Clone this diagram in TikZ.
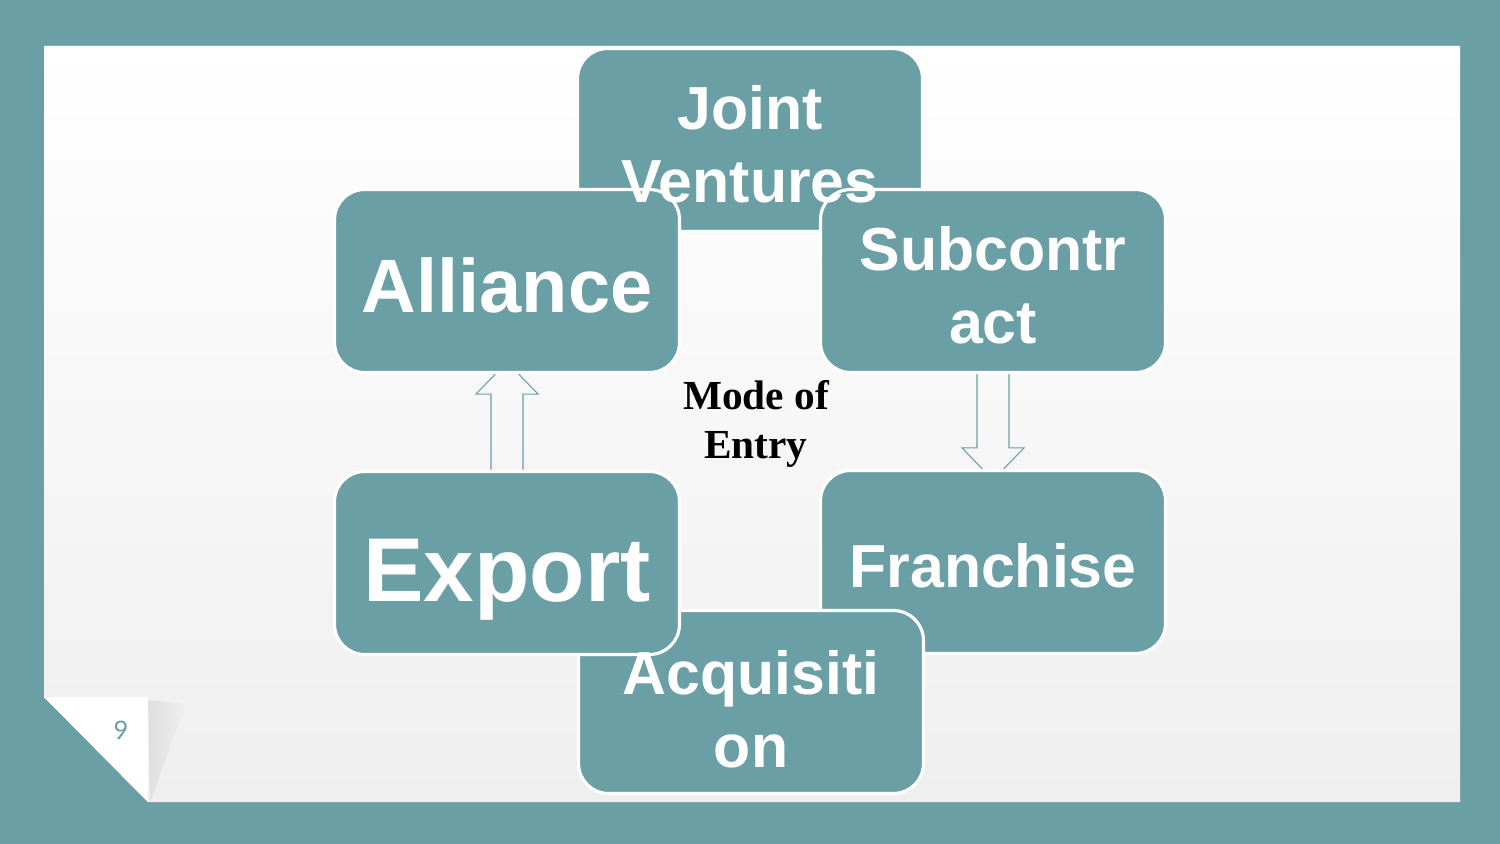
\documentclass[tikz,border=0pt]{standalone}
\usepackage{fontspec}
\setmainfont{Liberation Serif}
\setsansfont{Liberation Sans}
\newfontfamily\numfont{Lato}
\usetikzlibrary{calc, backgrounds}
\definecolor{cteal}{HTML}{6A9FA5}
\definecolor{cpage}{HTML}{EFEFEF}
\tikzset{
  every picture/.style={font=\sffamily},
  box/.style={draw=white, fill=cteal, line width=1.8pt, rounded corners=0.6cm, minimum width=6.9cm, minimum height=3.66cm, inner sep=0pt},
  boxtext/.style={text=white, align=center, inner sep=0pt, yshift=-0.08cm, font=\sffamily\bfseries\fontsize{#1}{41.5pt}\selectfont},
  boxtext/.default=34.6pt,
  hub/.style={align=center, inner sep=0pt, font=\rmfamily\bfseries\fontsize{23.5pt}{28.3pt}\selectfont},
  blockarrow/.style={draw=cteal, line width=0.6pt, line join=miter},
}

\begin{document}
\begin{tikzpicture}[x=0.02cm, y=-0.02cm, pagenum/.style={text=cteal, font=\numfont\fontsize{14.5pt}{17pt}\selectfont}]
  \useasboundingbox (0,0) rectangle (1500,844);
  \begin{scope}[on background layer]
    \fill[cteal] (0,0) rectangle (1500,844);
    \shade[top color=white, bottom color=cpage] (44,46) -- (1460,46) -- (1460,802) -- (148,802) -- (44,697) -- cycle;
    \shade[left color=gray!25, right color=cpage] (148,700) -- (186,704) -- (150,802) -- cycle;
    \fill[white] (44,697) -- (148,697) -- (148,802) -- cycle;
  \end{scope}
  \node[pagenum] (pg) at (121,730) {9};
  \foreach \n/\p in {jv/{750,140}, al/{507,281}, sc/{993,281}, fr/{993,562}, aq/{751,702}, ex/{507,563}}
    \node[box] (\n) at (\p) {};
  \node[boxtext] (jvt) at (jv) {Joint\\Ventures};
  \node[boxtext=43.1pt] (alt) at (al) {Alliance};
  \node[boxtext] (sct) at (sc) {Subcontr\\act};
  \node[boxtext] (frt) at (fr) {Franchise};
  \node[boxtext, yshift=-0.06cm] (aqt) at (aq) {Acquisiti\\on};
  \node[boxtext=51.6pt, yshift=-0.26cm] (ext) at (ex) {Export};
  \node[hub] (mode) at (756,424) {Mode of\\Entry};
  \begin{scope}[on background layer]
    \draw[blockarrow] ($(ex.north)+(-16,10)$) -- ($(al.south)+(-16,20)$) -- ++(-15,0) -- ($(al.south)+(0,-12)$)
      -- ($(al.south)+(31,20)$) -- ++(-15,0) -- ($(ex.north)+(16,10)$);
    \draw[blockarrow] ($(sc.south)+(-16,-10)$) -- ($(fr.north)+(-16,-21)$) -- ++(-15,0) -- ($(fr.north)+(0,11)$)
      -- ($(fr.north)+(31,-21)$) -- ++(-15,0) -- ($(sc.south)+(16,-10)$);
  \end{scope}
\end{tikzpicture}
\end{document}
